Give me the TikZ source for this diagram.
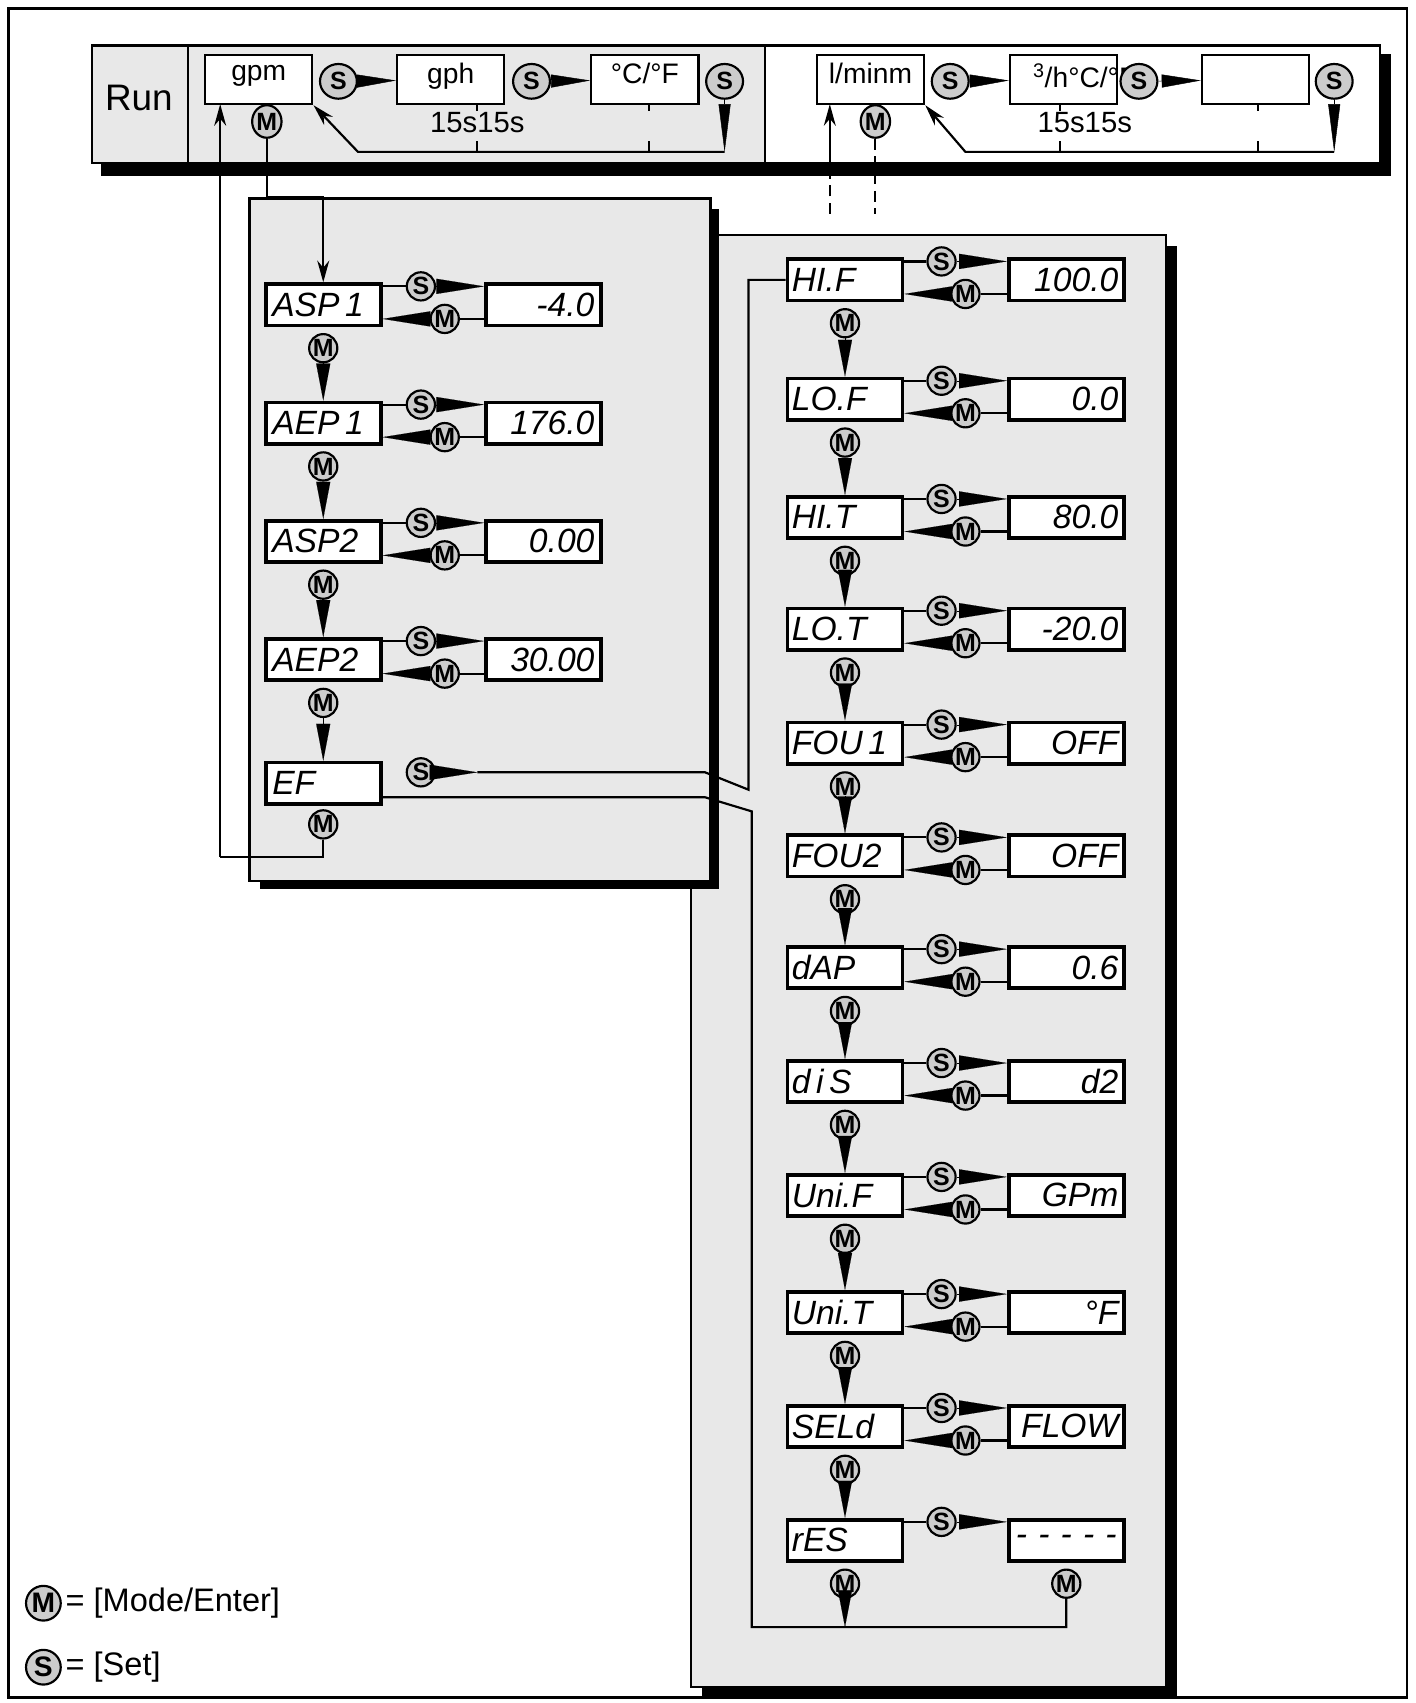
\documentclass[tikz,border=0pt]{standalone}
\usepackage{fontspec}
\setmainfont{Liberation Sans}
\usetikzlibrary{arrows.meta,shapes.geometric}
\tikzset{
  disp/.style={draw,line width=3.5pt,fill=white,minimum width=106pt,minimum height=38pt,
    inner sep=3pt,font=\fontsize{31}{31}\selectfont\itshape},
  key/.style={draw,line width=2pt,circle,fill=gray!40,minimum size=26pt,inner sep=0pt,
    font=\fontsize{23}{23}\selectfont\bfseries},
  okey/.style={key,ellipse,minimum width=34pt,minimum height=32pt},
  wedge/.style={-{Triangle[length=44pt,width=14pt]},line width=0.1pt},
  dwedge/.style={-{Triangle[length=34pt,width=13pt]},line width=0.1pt},
  lnk/.style={line width=2pt},
  tbox/.style={draw,line width=2pt,fill=white,minimum width=99pt,minimum height=45pt,
    anchor=north west,font=\fontsize{26}{26}\selectfont,text depth=12pt}
}
\begin{document}
\begin{tikzpicture}[x=1pt,y=-1pt,>={Stealth[length=20pt,width=11pt]}]
\useasboundingbox (0,0) rectangle (1305,1570);
\draw[line width=2.5pt] (8,8) rectangle (1297,1565);
% panels
\fill (647,227) rectangle (1085,1565);
\filldraw[fill=gray!18,line width=2pt] (637,217) rectangle (1075,1555);
\fill (240,193) rectangle (663,820);
\filldraw[fill=gray!18,line width=2pt] (230,183) rectangle (655,812);
% top bar
\fill (93,50) rectangle (1282,162);
\filldraw[fill=gray!18,line width=2pt] (85,42) rectangle (705,150);
\filldraw[fill=white,line width=2pt] (705,42) rectangle (1272,150);
\draw[line width=2pt] (173,42) -- (173,150);
\node[font=\fontsize{34}{34}\selectfont] (run) at (128,90) {Run};
\node[tbox] (gpm) at (188,50) {gpm};
\node[tbox] (gph) at (365,50) {gph};
\node[tbox] (cf) at (544,50) {°C/°F};
\node[tbox] (lmin) at (752,50) {l/minm};
\node[tbox] (m3h) at (930,50) {};
\node[tbox] (emp) at (1107,50) {};
\node[font=\fontsize{26}{26}\selectfont] at (1000,70) {\textsuperscript{3}/h°C/°F};
\node[okey] (ts1) at (312,75) {S};
\node[okey] (ts2) at (490,75) {S};
\node[okey] (ts3) at (668,75) {S};
\node[okey] (ts4) at (876,75) {S};
\node[okey] (ts5) at (1050,75) {S};
\node[okey] (ts6) at (1230,75) {S};
\draw[-{Triangle[length=36pt,width=12pt]}] (ts1) -- (gph);
\draw[-{Triangle[length=36pt,width=12pt]}] (ts2) -- (cf);
\draw[-{Triangle[length=36pt,width=12pt]}] (ts4) -- (m3h);
\draw[-{Triangle[length=36pt,width=12pt]}] (ts5) -- (emp);
\coordinate (tb1) at (668,140);
\coordinate (tb2) at (1230,140);
\draw[-{Triangle[length=44pt,width=11pt]}] (ts3) -- (tb1);
\draw[-{Triangle[length=44pt,width=11pt]}] (ts6) -- (tb2);
\draw[lnk,->] (tb1) -- (330,140) -- (gpm.south east);
\draw[lnk,->] (tb2) -- (890,140) -- (lmin.south east);
\foreach \x in {440,598,977,1160} \draw[lnk] (\x,130) -- (\x,140) (\x,95) -- (\x,102);
\node[font=\fontsize{27}{27}\selectfont] (t1) at (440,113) {15s15s};
\node[font=\fontsize{27}{27}\selectfont] (t2) at (1000,113) {15s15s};
\node[key,ellipse,minimum width=24pt,minimum height=30pt] (tm1) at (246,112) {M};
\node[key,ellipse,minimum width=24pt,minimum height=30pt] (tm2) at (807,112) {M};
% left column
\foreach \n/\v [count=\i] in {ASP\,1/-4.0, AEP\,1/176.0, ASP2/0.00, AEP2/30.00} {
  \pgfmathsetmacro\y{281+109*(\i-1)}
  \node[disp,text width=94pt,align=left] (p\i) at (298,\y) {\n};
  \node[disp,text width=94pt,align=right] (v\i) at (501,\y) {\v};
  \node[key] (ps\i) at (388,\y-17) {S};
  \node[key] (pm\i) at (410,\y+13) {M};
  \node[key] (pd\i) at (298,\y+40) {M};
  \draw[lnk] (p\i.east|-ps\i) -- (ps\i);
  \draw[wedge] (ps\i) -- (v\i.west|-ps\i);
  \draw[lnk] (v\i.west|-pm\i) -- (pm\i);
  \draw[wedge] (pm\i) -- (p\i.east|-pm\i);
}
\node[disp,text width=94pt,align=left] (p5) at (298,722) {EF};
\foreach \i [count=\j from 2] in {1,...,4} \draw[dwedge] (pd\i) -- (p\j);
\node[key] (ps5) at (388,712) {S};
\node[key] (pd5) at (298,760) {M};
% right column
\foreach \n/\v/\y [count=\i] in {HI.F/100.0/258, LO.F/0.0/368, HI.T/80.0/477, LO.T/-20.0/580,
    FOU\,1/OFF/685, FOU2/OFF/789, dAP/0.6/892, d\,i\,S/d2/997, Uni.F/GPm/1102,
    Uni.T/°F/1210, SELd/FLOW/1315} {
  \node[disp,text width=98pt,align=left] (r\i) at (779,\y) {\n};
  \node[disp,text width=96pt,align=right] (w\i) at (983,\y) {\v};
  \node[key] (rs\i) at (868,\y-17) {S};
  \node[key] (rm\i) at (890,\y+13) {M};
  \node[key] (rd\i) at (779,\y+40) {M};
  \draw[lnk] (r\i.east|-rs\i) -- (rs\i);
  \draw[wedge] (rs\i) -- (w\i.west|-rs\i);
  \draw[lnk] (w\i.west|-rm\i) -- (rm\i);
  \draw[wedge] (rm\i) -- (r\i.east|-rm\i);
}
\node[disp,text width=98pt,align=left] (r12) at (779,1420) {rES};
\node[disp,text width=96pt,align=center] (w12) at (983,1420) {- - - - -};
\node[key] (rs12) at (868,1403) {S};
\draw[lnk] (r12.east|-rs12) -- (rs12);
\draw[wedge] (rs12) -- (w12.west|-rs12);
\node[key] (rd12) at (779,1460) {M};
\node[key] (wm12) at (983,1460) {M};
\coordinate (rend) at (779,1500);
\draw[dwedge] (rd12) -- (rend);
\foreach \i [count=\j from 2] in {1,...,11} \draw[dwedge] (rd\i) -- (r\j);
% connections
\coordinate (es) at (440,712);
\draw[wedge] (ps5) -- (es);
\draw[lnk] (es) -- (650,712) -- (690,728) -- (690,258) -- (r1.west);
\draw[lnk] (p5.east|-735,735) -- (650,735) -- (693,748) -- (693,1500) -- (983,1500) -- (wm12);
\draw[lnk] (pd5) -- (298,790) -- (203,790) edge[->] (203,96);
\draw[lnk,->] (tm1) -- (246,182) -- (298,182) -- (p1);
\draw[lnk,dashed,dash pattern=on 10pt off 6pt] (765,197) -- (765,152) (tm2) -- (807,197);
\draw[lnk,->] (765,152) -- (765,96);
% legend
\node[key,minimum size=32pt,font=\fontsize{26}{26}\selectfont\bfseries] (lm) at (40,1478) {M};
\node[key,minimum size=32pt,font=\fontsize{26}{26}\selectfont\bfseries] (ls) at (40,1537) {S};
\node[anchor=west,font=\fontsize{30}{30}\selectfont] (lmt) at (lm.east) {= [Mode/Enter]};
\node[anchor=west,font=\fontsize{30}{30}\selectfont] (lst) at (ls.east) {= [Set]};
\end{tikzpicture}
\end{document}
